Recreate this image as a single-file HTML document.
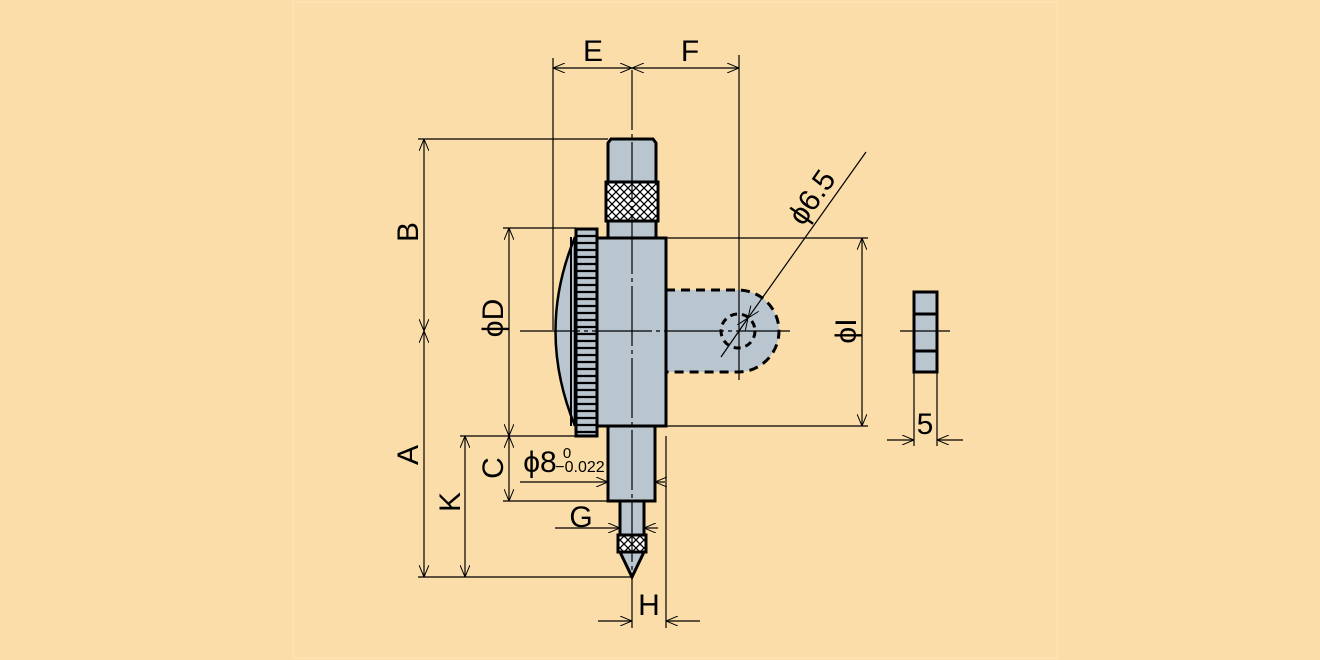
<!DOCTYPE html>
<html><head><meta charset="utf-8"><style>
html,body{margin:0;padding:0;background:#FADDA8;}
svg{display:block;font-family:"Liberation Sans",sans-serif;}
</style></head><body>
<svg width="1320" height="660" viewBox="0 0 1320 660" xmlns="http://www.w3.org/2000/svg">
<defs>
<marker id="a" viewBox="0 0 12 10" refX="12" refY="5" markerWidth="12" markerHeight="10" orient="auto-start-reverse" markerUnits="userSpaceOnUse">
<path d="M0,0 L12,5 L0,10" fill="none" stroke="#000" stroke-width="1"/></marker>
<pattern id="k" width="8" height="8" patternUnits="userSpaceOnUse"><rect width="8" height="8" fill="#fff"/><path d="M0,0 L8,8 M8,0 L0,8" stroke="#000" stroke-width="1.3"/></pattern>
</defs>
<rect x="293" y="2" width="764" height="656" fill="none" stroke="#fde6b8" stroke-width="1"/>
<g fill="#B9C5CF" stroke="#000" stroke-width="3">
<path d="M666,290 L738,290 A41,41 0 0 1 738,372 L666,372 Z" stroke-dasharray="9,6"/>
<circle cx="738" cy="331" r="17" fill="none" stroke-dasharray="7,5"/>
<path d="M608,238 L608,143 L611,139 L653,139 L656,143 L656,238 Z"/>
<rect x="606" y="182" width="52" height="39" fill="url(#k)"/>
<rect x="608" y="426" width="47" height="75"/>
<rect x="620" y="501" width="24" height="34"/>
<rect x="618" y="535" width="28" height="17" fill="url(#k)"/>
<path d="M620,552 L632,577 L644,552 Z"/>
<path d="M575,237 Q536,331 575,426 Z" stroke-width="2.5"/>
<line x1="571" y1="237" x2="571" y2="426" stroke-width="2"/>
<rect x="576" y="229" width="21" height="207"/>
<rect x="597" y="238" width="69" height="188"/>
<rect x="914" y="292" width="23" height="80"/>
<line x1="914" y1="314" x2="937" y2="314"/>
<line x1="914" y1="351" x2="937" y2="351"/>
</g>
<g stroke="#000" stroke-width="2.2">
<path d="M577,236 H596 M577,243 H596 M577,250 H596 M577,257 H596 M577,264 H596 M577,271 H596 M577,278 H596 M577,285 H596 M577,292 H596 M577,299 H596 M577,306 H596 M577,313 H596 M577,320 H596 M577,327 H596 M577,334 H596 M577,341 H596 M577,348 H596 M577,355 H596 M577,362 H596 M577,369 H596 M577,376 H596 M577,383 H596 M577,390 H596 M577,397 H596 M577,404 H596 M577,411 H596 M577,418 H596 M577,425 H596 M577,432 H596"/>
</g>
<g stroke="#000" stroke-width="1.2" fill="none">
<line x1="632" y1="70" x2="632" y2="628" stroke-dasharray="60,4,4,4"/>
<line x1="520" y1="331" x2="790" y2="331" stroke-dasharray="60,4,4,4"/>
<line x1="900" y1="331" x2="950" y2="331"/>
<line x1="553" y1="58" x2="553" y2="330"/>
<line x1="739" y1="55" x2="739" y2="380"/>
<line x1="418" y1="139" x2="608" y2="139"/>
<line x1="503" y1="228" x2="576" y2="228"/>
<line x1="460" y1="436" x2="598" y2="436"/>
<line x1="503" y1="501" x2="608" y2="501"/>
<line x1="418" y1="577" x2="632" y2="577"/>
<line x1="666" y1="238" x2="868" y2="238"/>
<line x1="666" y1="426" x2="868" y2="426"/>
<line x1="666" y1="436" x2="666" y2="628"/>
<line x1="914" y1="372" x2="914" y2="446"/>
<line x1="937" y1="372" x2="937" y2="446"/>
<line x1="553" y1="68" x2="632" y2="68" marker-start="url(#a)" marker-end="url(#a)"/>
<line x1="632" y1="68" x2="739" y2="68" marker-start="url(#a)" marker-end="url(#a)"/>
<line x1="424" y1="139" x2="424" y2="331" marker-start="url(#a)" marker-end="url(#a)"/>
<line x1="424" y1="331" x2="424" y2="577" marker-start="url(#a)" marker-end="url(#a)"/>
<line x1="509" y1="228" x2="509" y2="436" marker-start="url(#a)" marker-end="url(#a)"/>
<line x1="509" y1="436" x2="509" y2="501" marker-start="url(#a)" marker-end="url(#a)"/>
<line x1="465" y1="436" x2="465" y2="577" marker-start="url(#a)" marker-end="url(#a)"/>
<line x1="862" y1="238" x2="862" y2="426" marker-start="url(#a)" marker-end="url(#a)"/>
<line x1="520" y1="482" x2="608" y2="482" marker-end="url(#a)"/>
<line x1="665" y1="482" x2="655" y2="482" marker-end="url(#a)"/>
<line x1="555" y1="528" x2="620" y2="528" marker-end="url(#a)"/>
<line x1="658" y1="528" x2="644" y2="528" marker-end="url(#a)"/>
<line x1="598" y1="621" x2="632" y2="621" marker-end="url(#a)"/>
<line x1="700" y1="621" x2="666" y2="621" marker-end="url(#a)"/>
<line x1="887" y1="440" x2="914" y2="440" marker-end="url(#a)"/>
<line x1="963" y1="440" x2="937" y2="440" marker-end="url(#a)"/>
<line x1="866" y1="152" x2="748" y2="318" marker-end="url(#a)"/>
<line x1="748" y1="318" x2="721" y2="357" marker-start="url(#a)"/>
</g>
<g font-size="30" fill="#000" text-anchor="middle">
<text x="593" y="61">E</text>
<text x="690" y="61">F</text>
<text transform="translate(418,232) rotate(-90)">B</text>
<text transform="translate(418,455) rotate(-90)">A</text>
<text transform="translate(503,318) rotate(-90)">ϕD</text>
<text transform="translate(503,468) rotate(-90)">C</text>
<text transform="translate(460,502) rotate(-90)">K</text>
<text transform="translate(856,331) rotate(-90)">ϕI</text>
<text transform="translate(820,203) rotate(-55)">ϕ6.5</text>
<text x="581" y="527">G</text>
<text x="649" y="615">H</text>
<text x="925" y="434">5</text>
<text x="540" y="472">ϕ8</text>
</g>
<text x="567" y="458" font-size="15" text-anchor="middle">0</text>
<text x="580" y="472" font-size="16" text-anchor="middle">−0.022</text>
</svg>
</body></html>
